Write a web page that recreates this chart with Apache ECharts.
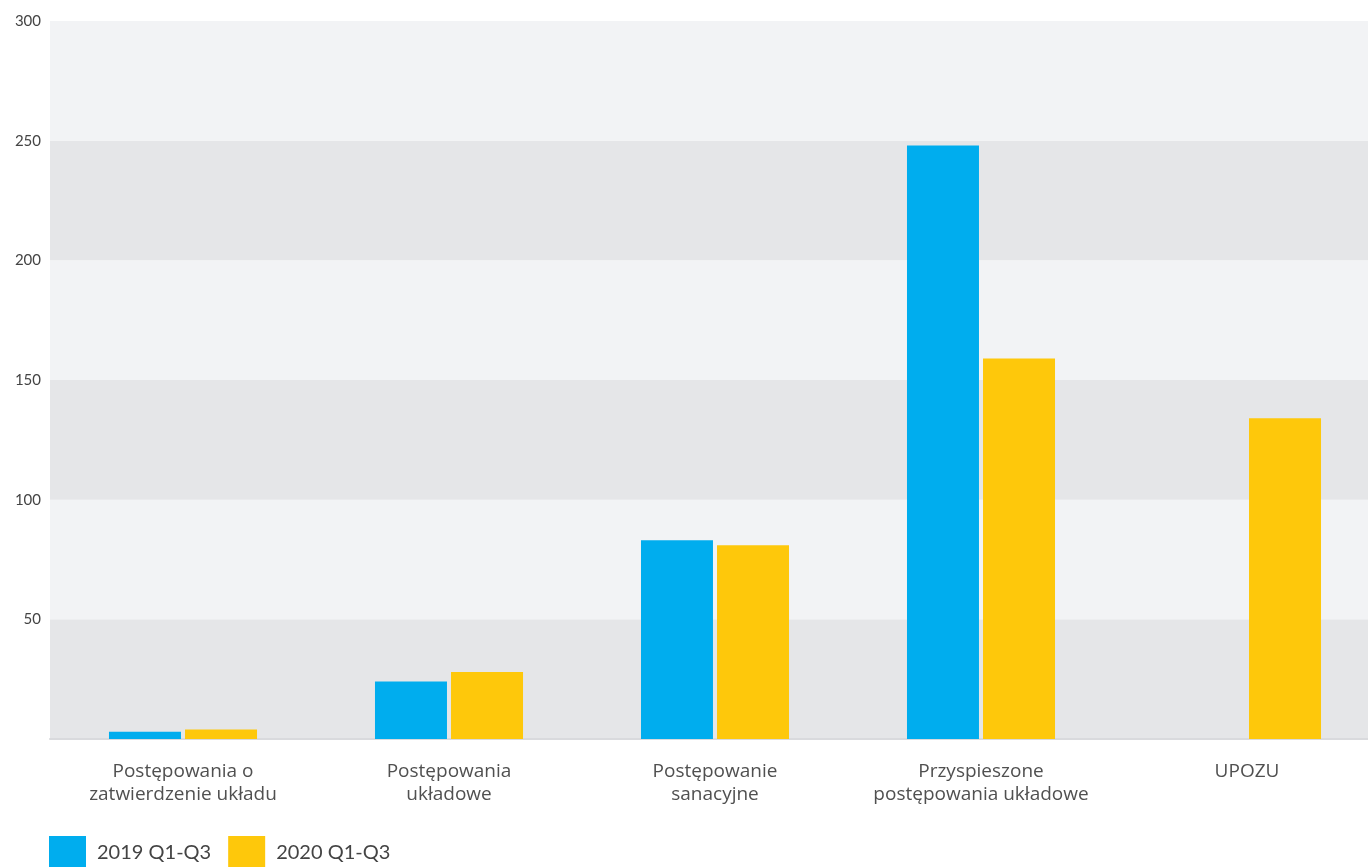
<!DOCTYPE html>
<html>
<head>
<meta charset="utf-8">
<style>html,body{margin:0;padding:0;background:#fff;overflow:hidden;}#c{width:1380px;height:867px;}</style>
<script src="https://cdn.jsdelivr.net/npm/echarts@6/dist/echarts.min.js"></script>
</head>
<body>
<div id="c"></div>
<script>
const categories = ["Postępowania o\nzatwierdzenie układu", "Postępowania\nukładowe", "Postępowanie\nsanacyjne", "Przyspieszone\npostępowania układowe", "UPOZU"];
const series2019 = [3, 24, 83, 248, 0];
const series2020 = [4, 28, 81, 159, 134];
const seriesNames = ["2019 Q1-Q3", "2020 Q1-Q3"];
const yTicks = [0, 50, 100, 150, 200, 250, 300];

const chart = echarts.init(document.getElementById('c'));
const font = 'Lato, "Open Sans", sans-serif';
const xfont = '"Open Sans", Lato, sans-serif';
chart.setOption({
  animation: false,
  textStyle: { fontFamily: font },
  grid: { left: 50, top: 21, bottom: 128, right: 0, containLabel: false },
  legend: {
    left: 44, top: 831, itemWidth: 37, itemHeight: 34, itemGap: 17,
    icon: 'rect',
    textStyle: { fontSize: 20, color: '#444', fontFamily: font, padding: [0, 0, 0, 6] },
    data: seriesNames
  },
  xAxis: {
    type: 'category', data: categories,
    axisLine: { show: true, lineStyle: { color: '#d9dadd', width: 2 } },
    axisTick: { show: false },
    axisLabel: { fontSize: 19, color: '#505050', lineHeight: 23, margin: 21, interval: 0, fontFamily: xfont },
    splitLine: { show: false }
  },
  yAxis: {
    type: 'value', min: yTicks[0], max: yTicks[yTicks.length - 1], interval: 50,
    axisLine: { show: false }, axisTick: { show: false },
    axisLabel: { fontSize: 15, color: '#444', margin: 9, fontFamily: font,
      formatter: v => v === 0 ? '' : String(v) },
    splitLine: { show: false },
    splitArea: { show: true, areaStyle: { color: ['#e5e6e8', '#f2f3f5'] } }
  },
  series: [
    { name: seriesNames[0], type: 'bar', data: series2019, barWidth: 72, barGap: '5.6%', itemStyle: { color: '#00adee' } },
    { name: seriesNames[1], type: 'bar', data: series2020, barWidth: 72, itemStyle: { color: '#fec80b' } }
  ]
});
</script>
</body>
</html>
